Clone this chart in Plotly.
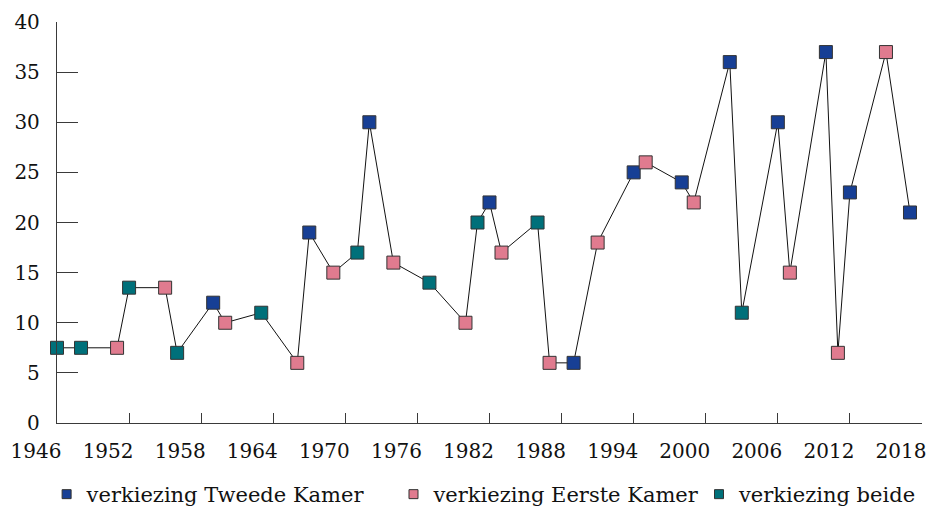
import plotly.graph_objects as go

years = [1946, 1948, 1951, 1952, 1955, 1956, 1959, 1960, 1963, 1966, 1967, 1969,
         1971, 1972, 1974, 1977, 1980, 1981, 1982, 1983, 1986, 1987, 1989, 1991,
         1994, 1995, 1998, 1999, 2002, 2003, 2006, 2007, 2010, 2011, 2012, 2015, 2017]
values = [7.5, 7.5, 7.5, 13.5, 13.5, 7, 12, 10, 11, 6, 19, 15,
          17, 30, 16, 14, 10, 20, 22, 17, 20, 6, 6, 18,
          25, 26, 24, 22, 36, 11, 30, 15, 37, 7, 23, 37, 21]
kinds = ["B", "B", "E", "B", "E", "B", "T", "E", "B", "E", "T", "E",
         "B", "T", "E", "B", "E", "B", "T", "E", "B", "E", "T", "E",
         "T", "E", "T", "E", "T", "B", "T", "E", "T", "E", "T", "E", "T"]

series_names = {"T": "verkiezing Tweede Kamer", "E": "verkiezing Eerste Kamer", "B": "verkiezing beide"}
series_colors = {"T": "#173f95", "E": "#e07b8f", "B": "#00707a"}
tick_years = list(range(1946, 2019, 6))
y_ticks = list(range(0, 41, 5))

FONT = "DejaVu Serif"
AXIS = "#3a3a3a"

fig = go.Figure()
fig.add_trace(go.Scatter(x=years, y=values, mode="lines",
                         line=dict(color="#111111", width=1), showlegend=False,
                         hoverinfo="skip", cliponaxis=False))
for k in ["T", "E", "B"]:
    xs = [x for x, kk in zip(years, kinds) if kk == k]
    ys = [v for v, kk in zip(values, kinds) if kk == k]
    fig.add_trace(go.Scatter(x=xs, y=ys, mode="markers", name=series_names[k],
                             marker=dict(symbol="square", size=13, color=series_colors[k],
                                         line=dict(color="#333333", width=1)),
                             showlegend=False, cliponaxis=False))
legend_ids = {"T": "legend", "E": "legend2", "B": "legend3"}
for k in ["T", "E", "B"]:
    fig.add_trace(go.Scatter(x=[None], y=[None], mode="markers", name=series_names[k],
                             legend=legend_ids[k],
                             marker=dict(symbol="square", size=9, color=series_colors[k],
                                         line=dict(color="#333333", width=1))))

def leg(xpos, anchor="left"):
    return dict(orientation="h", x=xpos, xanchor=anchor, y=-0.012, yanchor="bottom",
                yref="container",
                font=dict(family=FONT, size=21, color="#111111"),
                itemwidth=30, bgcolor="rgba(0,0,0,0)")

fig.update_layout(
    width=929, height=515,
    margin=dict(l=57, r=7, t=22, b=92),
    paper_bgcolor="white", plot_bgcolor="white",
    font=dict(family=FONT, size=20, color="#111111"),
    showlegend=True,
    legend=leg(-0.012),
    legend2=leg(0.389),
    legend3=leg(1.0, "right"),
    xaxis=dict(range=[1946, 2018], tickmode="array", tickvals=tick_years,
               ticktext=[str(t) for t in tick_years],
               ticks="inside", ticklen=10, tickcolor=AXIS, tickwidth=1,
               showline=True, linecolor=AXIS, linewidth=1.3, automargin=False,
               showgrid=False, zeroline=False, ticklabelshift=-21, ticklabelstandoff=10),
    yaxis=dict(range=[0, 40], tickmode="array", tickvals=y_ticks,
               ticks="inside", ticklen=21, tickcolor=AXIS, tickwidth=1,
               showline=True, linecolor=AXIS, linewidth=1.3, automargin=False,
               showgrid=False, zeroline=False, ticklabelstandoff=12),
)

fig.write_html("out.html", config={"displayModeBar": False},
               post_script="document.body.style.margin='0';document.body.style.overflow='hidden';")
